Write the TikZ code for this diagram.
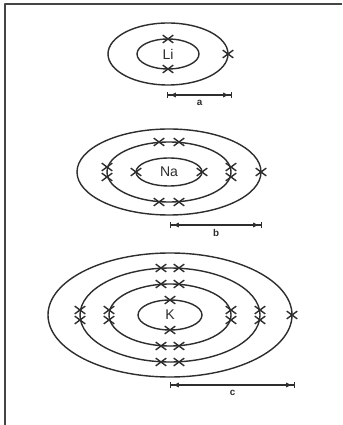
\documentclass[tikz,border=0pt]{standalone}
\usepackage{fontspec}
\setsansfont{Liberation Sans}
\usetikzlibrary{shapes.misc,arrows.meta}
\begin{document}
\begin{tikzpicture}[x=0.25mm, y=-0.25mm, font=\sffamily, line join=round]
  \definecolor{ink}{HTML}{2E2E2E}
  \definecolor{frame}{HTML}{454545}
  \tikzset{
    shell/.style={draw=ink, line width=1pt},
    electron/.style={cross out, draw=ink, line width=1pt, minimum width=2.3mm, minimum height=1.6mm, inner sep=0pt},
    symbol/.style={text=ink, font=\sffamily, inner sep=1pt},
    scalebar/.style={draw=ink, line width=0.8pt, {Bar[width=1.6mm]Latex[length=1.6mm,width=1.3mm,sep=1pt]}-{Latex[length=1.6mm,width=1.3mm,sep=1pt]Bar[width=1.6mm]}},
    barlabel/.style={text=ink, font=\sffamily\scriptsize\bfseries, inner sep=1pt}
  }
  \path[use as bounding box] (0,0) rectangle (342,425);
  \fill[white] (0,0) rectangle (342,425);
  % the frame only shows on the top and left
  \draw[frame, line width=0.55mm] (342,4) -- (5,4) -- (5,425);
  % lithium: 2,1
  \draw[shell] (168,54) ellipse [x radius=31, y radius=15];
  \draw[shell] (168,54) ellipse [x radius=60, y radius=31];
  \node[symbol] (li) at (168,54) {Li};
  \foreach \x/\y [count=\i] in {168/39, 168/69, 228/54}
    \node[electron] (li\i) at (\x,\y) {};
  \coordinate (a0) at (167,95);
  \coordinate (a1) at (232,95);
  \draw[scalebar] (a0) -- (a1) node[barlabel, midway, below=2pt] (a) {a};
  % sodium: 2,8,1
  \draw[shell] (169,172) ellipse [x radius=33, y radius=14];
  \draw[shell] (169,172) ellipse [x radius=62, y radius=30];
  \draw[shell] (169,172) ellipse [x radius=92, y radius=43];
  \node[symbol] (na) at (169,172) {Na};
  \foreach \x/\y [count=\i] in {136/172, 202/172,
      159/142, 179/142, 159/202, 179/202, 107/167, 107/177, 231/167, 231/177,
      261/172}
    \node[electron] (na\i) at (\x,\y) {};
  \coordinate (b0) at (170,225);
  \coordinate (b1) at (262,225);
  \draw[scalebar] (b0) -- (b1) node[barlabel, midway, below=2pt] (b) {b};
  % potassium: 2,8,8,1
  \draw[shell] (170,315) ellipse [x radius=32, y radius=15];
  \draw[shell] (170,315) ellipse [x radius=61, y radius=31];
  \draw[shell] (170,315) ellipse [x radius=90, y radius=47];
  \draw[shell] (170,315) ellipse [x radius=122, y radius=62];
  \node[symbol] (k) at (170,315) {K};
  \foreach \x/\y [count=\i] in {170/300, 170/330,
      161/284, 179/284, 161/346, 179/346, 109/310, 109/320, 231/310, 231/320,
      161/268, 179/268, 161/362, 179/362, 80/310, 80/320, 260/310, 260/320,
      292/315}
    \node[electron] (k\i) at (\x,\y) {};
  \coordinate (c0) at (170,385);
  \coordinate (c1) at (295,385);
  \draw[scalebar] (c0) -- (c1) node[barlabel, midway, below=2pt] (c) {c};
\end{tikzpicture}
\end{document}
